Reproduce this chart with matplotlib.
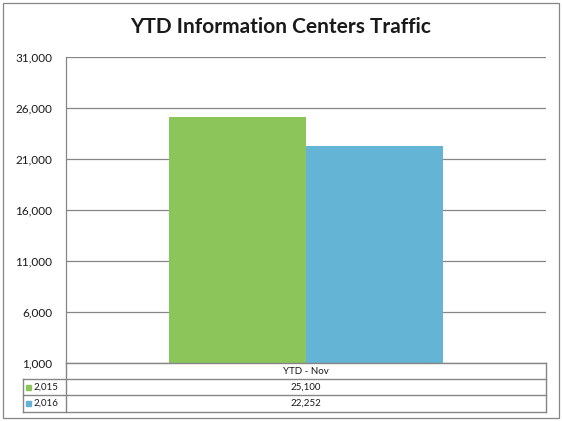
import matplotlib.pyplot as plt
from matplotlib.patches import Rectangle

# data
categories = ['YTD - Nov']
years = ['2,015', '2,016']
values = [25100, 22252]
colors = ['#8cc65b', '#64b4d6']
y_ticks = [1000, 6000, 11000, 16000, 21000, 26000, 31000]

W, H = 562, 421
grid_col = '#868686'

plt.rcParams['font.family'] = ['Lato', 'DejaVu Sans']

fig = plt.figure(figsize=(W / 100, H / 100), dpi=100)

def fbox(x0, y0, x1, y1):
    # pixel box (top-left origin) -> figure fraction rect
    return [x0 / W, 1 - y1 / H, (x1 - x0) / W, (y1 - y0) / H]

# outer chart border
fig.add_artist(Rectangle((2.5 / W, 1 - 418 / H), 556 / W, 415.5 / H,
                         transform=fig.transFigure, fill=False,
                         edgecolor=grid_col, linewidth=0.9))

fig.text(0.5, 1 - 27 / H, 'YTD Information Centers Traffic', ha='center', va='center',
         fontsize=15, fontweight='bold', color='#1a1a1a')

ax = fig.add_axes(fbox(66, 57, 546, 363))
bar_w = 0.2855
for i, (yr, v, c) in enumerate(zip(years, values, colors)):
    ax.bar(0 + (i - 0.5) * bar_w, v, width=bar_w, color=c, zorder=3)

ax.set_xlim(-0.5, 0.5)
ax.set_ylim(y_ticks[0], y_ticks[-1])
ax.set_yticks(y_ticks)
ax.set_yticklabels([f'{t:,}' for t in y_ticks])
ax.set_xticks([])
ax.tick_params(axis='y', length=0, pad=10, labelsize=8.5, labelcolor='#1a1a1a')
ax.grid(axis='y', color=grid_col, linewidth=0.9, zorder=0)
for s in ['top', 'right', 'bottom']:
    ax.spines[s].set_visible(False)
ax.spines['left'].set_color(grid_col)
ax.spines['left'].set_linewidth(0.9)

# data table under the plot, drawn in pixel coords
tab = fig.add_axes(fbox(20, 360, 550, 416))
tab.set_xlim(20, 550)
tab.set_ylim(416, 360)
tab.axis('off')
lw = 1.0
rows_y = [363, 379, 395, 412]
tab.plot([66, 546], [363, 363], color=grid_col, lw=lw)
for yy in rows_y[1:]:
    tab.plot([23, 546], [yy, yy], color=grid_col, lw=lw)
tab.plot([23, 23], [379, 412], color=grid_col, lw=lw)
tab.plot([66, 66], [363, 412], color=grid_col, lw=lw)
tab.plot([546, 546], [363, 412], color=grid_col, lw=lw)

cx = 306
fs = 7
tab.text(cx, 371, categories[0], ha='center', va='center', fontsize=fs, color='#1a1a1a')
for i, (yr, v, c) in enumerate(zip(years, values, colors)):
    yc = (rows_y[i + 1] + rows_y[i + 2]) / 2
    tab.add_patch(Rectangle((26, yc - 2.5), 5, 5, color=c))
    tab.text(33, yc, yr, ha='left', va='center', fontsize=fs, color='#1a1a1a')
    tab.text(cx, yc, f'{v:,}', ha='center', va='center', fontsize=fs, color='#1a1a1a')

fig.savefig('out.png', dpi=100)
